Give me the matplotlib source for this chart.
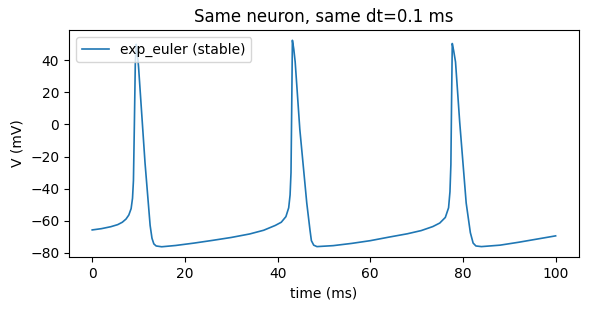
import matplotlib
matplotlib.use("Agg")
import matplotlib.pyplot as plt

# membrane potential (time in ms, V in mV)
t_ms = [0, 2, 4, 5.5, 6.5, 7.3, 7.9, 8.4, 8.7, 8.9, 9.1, 9.3, 9.5, 9.7, 10.0,
        11.4, 12.5, 12.9, 13.3, 13.8, 15, 18, 22, 26, 30, 34, 37, 39.5, 40.8,
        41.8, 42.4, 42.7, 42.9, 43.05, 43.2, 43.5, 43.8, 44.8, 46.3, 47.0, 47.3,
        47.8, 48.5, 52, 56, 60, 64, 68, 71, 73.5, 75.0, 76.2, 76.9, 77.2, 77.4,
        77.55, 77.7, 78.0, 78.4, 79.3, 80.7, 81.6, 82.2, 82.8, 84, 88, 92, 96, 100]
v_mv = [-65.8, -65.0, -63.8, -62.5, -61.0, -59.0, -56.5, -52.5, -46, -35, 0,
        38, 50, 46, 36, -24, -63, -71, -74.5, -75.8, -76.3, -75.5, -74, -72.3,
        -70.5, -68.3, -66, -63, -61, -57.5, -52, -44, -30, 10, 52.5, 47, 39,
        -3, -49, -66, -72.5, -75.3, -76.2, -75.6, -74.2, -72.5, -70.3, -68.2,
        -66.2, -63.7, -61.5, -58, -52, -42, -25, 15, 50.5, 46, 39, 1.5, -49,
        -67.5, -74, -75.8, -76.2, -75.3, -73.5, -71.5, -69.5]

fig = plt.figure(figsize=(5.9, 3.09), dpi=100)
ax = fig.add_subplot(111)
ax.plot(t_ms, v_mv, lw=1.2, label="exp_euler (stable)")
ax.set_title("Same neuron, same dt=0.1 ms")
ax.set_xlabel("time (ms)")
ax.set_ylabel("V (mV)")
ax.legend(loc="upper left")
fig.subplots_adjust(left=0.117, right=0.981, top=0.903, bottom=0.168)
fig.savefig("out.png", dpi=100)
